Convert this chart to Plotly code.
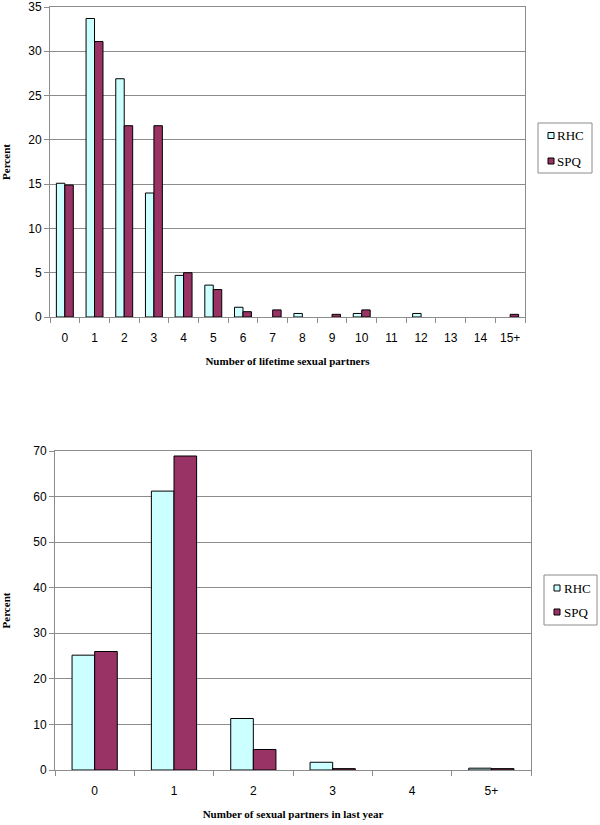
import plotly.graph_objects as go

# Top chart: lifetime partners
life_cats = ["0", "1", "2", "3", "4", "5", "6", "7", "8", "9", "10", "11", "12", "13", "14", "15+"]
life_rhc = [15.1, 33.7, 26.9, 14.0, 4.7, 3.6, 1.1, 0.0, 0.4, 0.0, 0.4, 0.0, 0.4, 0.0, 0.0, 0.0]
life_spq = [14.9, 31.1, 21.6, 21.6, 5.0, 3.1, 0.6, 0.8, 0.0, 0.3, 0.8, 0.0, 0.0, 0.0, 0.0, 0.3]

# Bottom chart: partners in last year
year_cats = ["0", "1", "2", "3", "4", "5+"]
year_rhc = [25.2, 61.2, 11.3, 1.7, 0.0, 0.4]
year_spq = [26.0, 68.9, 4.5, 0.3, 0.0, 0.3]

series_names = ["RHC", "SPQ"]

RHC_COLOR = "#CCFFFF"
SPQ_COLOR = "#993366"
GRID = "#8c8c8c"
tick_font = dict(family="Liberation Sans, Arial", size=12, color="black")
title_font = dict(family="Liberation Serif, serif", size=11, color="black")
legend_font = dict(family="Liberation Serif, serif", size=13, color="black")

FW = 600
FH = 825


def px(x):
    return min(1.0, max(0.0, x / FW))


def py(y):
    return min(1.0, max(0.0, 1 - y / FH))


def bar(x, y, name, color, xa, ya):
    # zero-valued bars are not drawn with an outline (as in the original)
    widths = [1 if v > 0 else 0 for v in y]
    return go.Bar(x=x, y=y, name=name, showlegend=False,
                  marker=dict(color=color, line=dict(color="black", width=widths)),
                  xaxis=xa, yaxis=ya)


fig = go.Figure()
fig.add_trace(bar(life_cats, life_rhc, series_names[0], RHC_COLOR, "x", "y"))
fig.add_trace(bar(life_cats, life_spq, series_names[1], SPQ_COLOR, "x", "y"))
fig.add_trace(bar(year_cats, year_rhc, series_names[0], RHC_COLOR, "x2", "y2"))
fig.add_trace(bar(year_cats, year_spq, series_names[1], SPQ_COLOR, "x2", "y2"))


def xax(domain, anchor, title):
    return dict(domain=domain, anchor=anchor, type="category", tickson="boundaries",
                ticks="outside", ticklen=5, tickcolor=GRID, showline=True, linecolor=GRID,
                mirror=True, showgrid=False, tickfont=tick_font, tickangle=0,
                ticklabelstandoff=10, automargin=False,
                title=dict(text="<b>%s</b>" % title, font=title_font, standoff=12))


def yax(domain, anchor, rng, dt, standoff):
    return dict(domain=domain, anchor=anchor, range=rng, dtick=dt, ticks="outside", ticklen=5,
                tickcolor=GRID, showline=True, linecolor=GRID, mirror=True, showgrid=True,
                gridcolor=GRID, gridwidth=1, zeroline=False, tickfont=tick_font,
                automargin=False, ticklabeloverflow="allow",
                title=dict(text="<b>Percent</b>", font=title_font, standoff=standoff))


shapes = []
annotations = []


def add_legend(box, sq_x, ys, text_x):
    x0, y0, x1, y1 = box
    shapes.append(dict(type="rect", xref="paper", yref="paper",
                       x0=px(x0), x1=px(x1), y0=py(y1), y1=py(y0),
                       line=dict(color=GRID, width=1), fillcolor="white", layer="above"))
    for name, color, yc in zip(series_names, [RHC_COLOR, SPQ_COLOR], ys):
        shapes.append(dict(type="rect", xref="paper", yref="paper",
                           x0=px(sq_x), x1=px(sq_x + 6),
                           y0=py(yc + 3), y1=py(yc - 3),
                           line=dict(color="black", width=1), fillcolor=color, layer="above"))
        annotations.append(dict(text=name, xref="paper", yref="paper", x=px(text_x),
                                y=py(yc), xanchor="left", yanchor="middle",
                                showarrow=False, font=legend_font))


add_legend((538, 123, 592, 173), 548, (135.5, 161), 555)
add_legend((544, 575, 597, 625), 554, (588, 612), 562)

fig.update_layout(
    width=FW, height=FH,
    margin=dict(l=0, r=0, t=0, b=0),
    paper_bgcolor="white", plot_bgcolor="white",
    barmode="group", bargap=0.43, bargroupgap=0,
    xaxis=xax([px(50), px(525)], "y", "Number of lifetime sexual partners"),
    yaxis=yax([py(317), py(7)], "x", [0, 35], 5, 23),
    xaxis2=xax([px(55), px(531)], "y2", "Number of sexual partners in last year"),
    yaxis2=yax([py(770), py(451)], "x2", [0, 70], 10, 20),
    shapes=shapes,
    annotations=annotations,
    showlegend=False,
)

fig.write_html("out.html",
               config={"displayModeBar": False},
               post_script="document.body.style.margin='0';document.body.style.overflow='hidden';")
